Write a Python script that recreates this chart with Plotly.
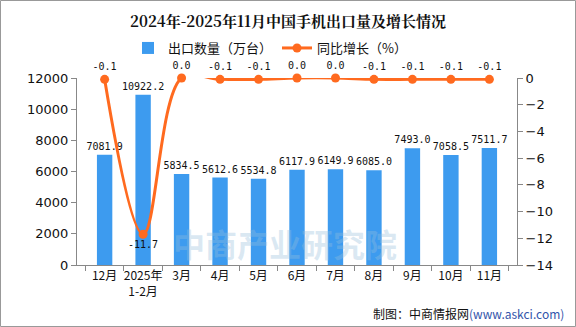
import plotly.graph_objects as go

categories = ["12月", "2025年<br>1-2月", "3月", "4月", "5月", "6月", "7月", "8月", "9月", "10月", "11月"]
volume = [7081.9, 10922.2, 5834.5, 5612.6, 5534.8, 6117.9, 6149.9, 6085.0, 7493.0, 7058.5, 7511.7]
growth = [-0.1, -11.7, 0.0, -0.1, -0.1, 0.0, 0.0, -0.1, -0.1, -0.1, -0.1]

W, H = 576, 327
ML, MR, MT, MB = 77, 59, 78, 62
PW, PH = W - ML - MR, H - MT - MB

def px(x):
    return (x - ML) / PW

def py(y):
    return (H - MB - y) / PH

fig = go.Figure()
fig.add_trace(go.Bar(
    x=categories, y=volume, name="出口数量（万台）",
    marker=dict(color="#3D9BEF", line=dict(width=0)),
    width=0.4,
    text=[f"{v:.1f}" for v in volume], textposition="outside",
    constraintext="none",
    textfont=dict(family="DejaVu Sans Mono", size=10, color="#111"),
    cliponaxis=False,
))
fig.add_trace(go.Scatter(
    x=categories, y=growth, name="同比增长（%）", yaxis="y2",
    mode="lines+markers+text",
    line=dict(color="#FF6A1F", width=3, shape="spline", smoothing=1.0),
    marker=dict(color="#FF6A1F", size=9),
    text=[f"{v:.1f}" for v in growth],
    textposition=["bottom center" if v < -5 else "top center" for v in growth],
    textfont=dict(family="DejaVu Sans Mono", size=10, color="#111"),
    cliponaxis=False,
))

fig.update_layout(
    width=W, height=H,
    margin=dict(l=ML, r=MR, t=MT, b=MB),
    paper_bgcolor="white", plot_bgcolor="rgba(0,0,0,0)",
    font=dict(family="Noto Sans CJK SC", size=12, color="#111"),
    title=dict(text="<b>2024年-2025年11月中国手机出口量及增长情况</b>",
               x=0.5, xanchor="center", y=1 - 22 / H, yanchor="middle",
               font=dict(family="Noto Serif CJK SC, Noto Sans CJK SC", size=15, color="#111")),
    showlegend=True,
    legend=dict(orientation="h", x=px(128), xanchor="left", y=py(48), yanchor="middle",
                font=dict(size=13), bgcolor="rgba(0,0,0,0)", itemwidth=30, traceorder="normal"),
    bargap=0.6,
    xaxis=dict(showline=True, linecolor="#888", linewidth=1, ticks="outside", tickson="boundaries",
               ticklen=5, tickcolor="#888", showgrid=False, tickfont=dict(size=12), tickangle=0),
    yaxis=dict(range=[0, 12000], dtick=2000, tickformat="d", showline=True, linecolor="#888", linewidth=1,
               ticks="outside", ticklen=5, tickcolor="#888", showgrid=False, zeroline=False,
               tickfont=dict(family="DejaVu Sans", size=13)),
    yaxis2=dict(range=[-14, 0], dtick=2, overlaying="y", side="right", showline=True,
                linecolor="#888", linewidth=1, ticks="outside", ticklen=5, tickcolor="#888",
                showgrid=False, zeroline=False, tickfont=dict(family="DejaVu Sans", size=13)),
)

# watermark
fig.add_annotation(text="<b>中商产业研究院</b>", xref="paper", yref="paper", x=px(285), y=py(243),
                   showarrow=False, font=dict(size=32, color="rgba(150,190,220,0.35)"),
                   xanchor="center", yanchor="middle")

# footer
fig.add_annotation(text="制图：中商情报网<span style='color:#3355aa'>(www.askci.com)</span>",
                   xref="paper", yref="paper", x=px(566), y=py(313), xanchor="right", yanchor="middle",
                   showarrow=False, font=dict(size=12, color="#111"))

# frame
fig.add_shape(type="rect", xref="paper", yref="paper", x0=px(0.5), x1=px(W - 0.5), y0=py(H - 0.5), y1=py(0.5),
              line=dict(color="#999", width=1), layer="above")

fig.write_html("out.html")
